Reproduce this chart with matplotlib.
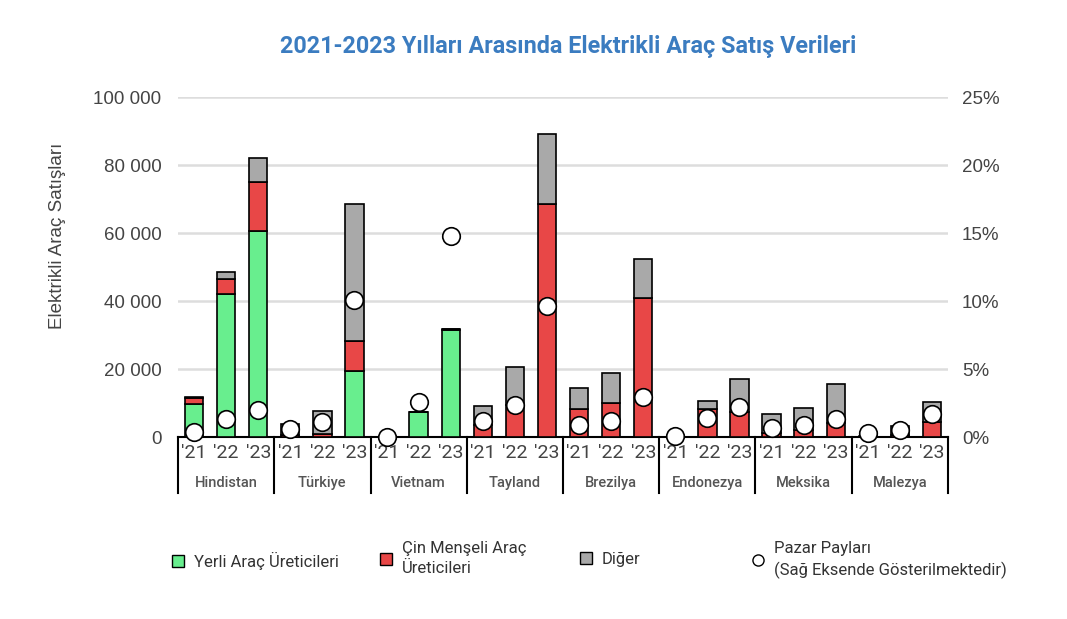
import numpy as np
import matplotlib
matplotlib.use("Agg")
import matplotlib.pyplot as plt
from matplotlib.lines import Line2D
from matplotlib.patches import Patch

countries = ["Hindistan", "Türkiye", "Vietnam", "Tayland", "Brezilya", "Endonezya", "Meksika", "Malezya"]
years = ["'21", "'22", "'23"]

# values per bar (country x year), in units of vehicles
yerli = [9600, 42000, 60600,   0, 0, 19500,   0, 7350, 31400,   0, 0, 0,
         0, 0, 0,   0, 0, 0,   0, 0, 0,   0, 0, 0]
cin = [1800, 4400, 14400,   500, 1000, 8800,   0, 0, 500,   3500, 9500, 68400,
       8300, 10100, 40800,   0, 8100, 7400,   1100, 2100, 4000,   200, 500, 4500]
diger = [400, 2000, 7200,   3400, 6700, 40200,   0, 0, 0,   5600, 11200, 20600,
         6000, 8600, 11700,   0, 2600, 9800,   5600, 6300, 11500,   100, 2700, 5900]
pazar_payi = [0.35, 1.3, 2.0,   0.57, 1.13, 10.05,   0.0, 2.6, 14.8,   1.18, 2.35, 9.66,
              0.88, 1.2, 2.97,   0.1, 1.37, 2.23,   0.69, 0.88, 1.32,   0.27, 0.51, 1.69]

left_ticks = [0, 20000, 40000, 60000, 80000, 100000]
left_labels = ["0", "20 000", "40 000", "60 000", "80 000", "100 000"]
right_ticks = [0, 5, 10, 15, 20, 25]
right_labels = ["0%", "5%", "10%", "15%", "20%", "25%"]

C_GREEN = "#68ee8e"
C_RED = "#e84747"
C_GREY = "#a9a9a9"
C_TXT = "#444444"

plt.rcParams['font.family'] = ['Liberation Sans', 'DejaVu Sans']
COND = ['Roboto', 'DejaVu Sans']

fig = plt.figure(figsize=(10.67, 6.19), dpi=100)
ax = fig.add_axes([178/1067, 1-437/619, 770/1067, 340/619])

n = len(countries) * len(years)
x = np.arange(n)
yerli_a = np.array(yerli)
cin_a = np.array(cin)
diger_a = np.array(diger)
w = 0.57
ax.bar(x, yerli_a, w, color=C_GREEN, edgecolor="black", linewidth=1.2, zorder=3)
ax.bar(x, cin_a, w, bottom=yerli_a, color=C_RED, edgecolor="black", linewidth=1.2, zorder=3)
ax.bar(x, diger_a, w, bottom=yerli_a + cin_a, color=C_GREY, edgecolor="black", linewidth=1.2, zorder=3)

ax.set_xlim(-0.5, n - 0.5)
ax.set_ylim(0, 100000)
ax.set_yticks(left_ticks)
ax.set_yticklabels(left_labels)
ax.yaxis.grid(True, color="#dddddd", linewidth=1.8, zorder=0)
ax.set_axisbelow(True)
for s in ["top", "right", "left"]:
    ax.spines[s].set_visible(False)
ax.spines["bottom"].set_color("black")
ax.spines["bottom"].set_linewidth(1.5)
ax.tick_params(axis="y", length=0, pad=12, labelsize=13.5, labelcolor=C_TXT)
ax.set_xticks(x)
ax.set_xticklabels(years * len(countries), fontfamily=COND, fontsize=14, color=C_TXT)
ax.tick_params(axis="x", length=0, pad=5)

# group separators and group labels
trans = ax.get_xaxis_transform()
for i in range(len(countries) + 1):
    xs = i * len(years) - 0.5
    ax.plot([xs, xs], [0, -56/340], transform=trans, color="black", lw=1.5, clip_on=False)
for i, c in enumerate(countries):
    ax.text(i * len(years) + 1, -46/340, c, transform=trans, ha="center", va="center",
            fontfamily=COND, fontsize=10.5, fontweight="medium", color="#555555")

fig.text(57/1067, 1-236/619, "Elektrikli Araç Satışları", rotation=90, ha="center", va="center",
         fontsize=13.5, color=C_TXT)

ax2 = ax.twinx()
ax2.set_ylim(0, 25)
ax2.set_yticks(right_ticks)
ax2.set_yticklabels(right_labels)
for s in ax2.spines.values():
    s.set_visible(False)
ax2.tick_params(axis="y", length=0, pad=10, labelsize=13.5, labelcolor=C_TXT)
ax2.scatter(x, pazar_payi, s=160, facecolor="white", edgecolor="black", linewidth=1.2,
            zorder=5, clip_on=False)

fig.text(568/1067, 1-47/619, "2021-2023 Yılları Arasında Elektrikli Araç Satış Verileri",
         ha="center", va="center", fontsize=16.8, fontweight="bold", color="#3b7cc0",
         fontfamily=COND)

def leg(handle, label, xpos, ypos):
    l = fig.legend([handle], [label], loc="upper left", bbox_to_anchor=(xpos/1067, 1-ypos/619),
                   frameon=False, prop={'family': COND, 'size': 12}, handlelength=0.7,
                   handletextpad=0.6, borderaxespad=0, borderpad=0)
    for t in l.get_texts():
        t.set_color("#333333")
        t.set_linespacing(1.45)
    return l

leg(Patch(facecolor=C_GREEN, edgecolor="black"), "Yerli Araç Üreticileri", 172, 552)
leg(Patch(facecolor=C_RED, edgecolor="black"), "Çin Menşeli Araç\nÜreticileri", 380, 541)
leg(Patch(facecolor=C_GREY, edgecolor="black"), "Diğer", 580, 552)
leg(Line2D([], [], marker="o", linestyle="none", markerfacecolor="white", markeredgecolor="black",
           markersize=8), "Pazar Payları\n(Sağ Eksende Gösterilmektedir)", 752, 541)

fig.savefig("out.png", dpi=100)
